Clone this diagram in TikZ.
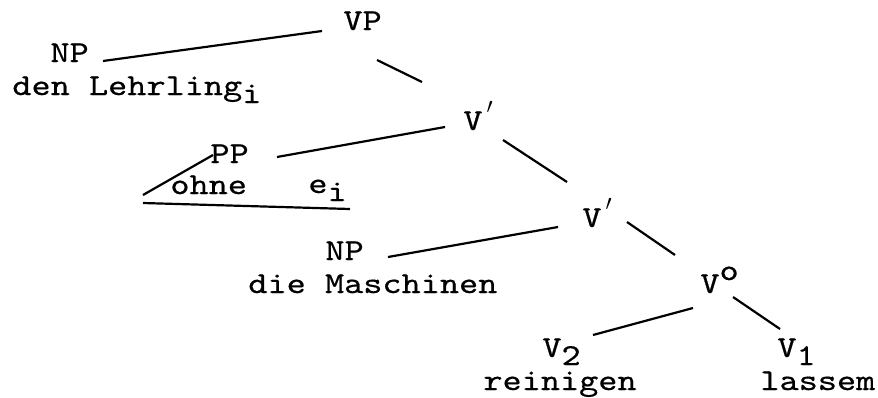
\documentclass[tikz,border=0pt]{standalone}
\usepackage{fontspec}
\setmonofont{lmmono10-regular.otf}[FakeStretch=1.2,FakeBold=0.5]
\usetikzlibrary{positioning}

\newcommand{\tief}[1]{\raisebox{-4pt}{#1}}
\newcommand{\hoch}[1]{\raisebox{6.5pt}{#1}}
\newcommand{\strich}{\hspace{2pt}\raisebox{3pt}{$^{\prime}$}}

\tikzset{
  kat/.style={anchor=base west, inner sep=0pt, font=\ttfamily\fontsize{15.2}{18}\selectfont},
  ast/.style={line width=1.1pt}
}

\begin{document}
\begin{tikzpicture}[x=0.5pt, y=-0.5pt]
  \useasboundingbox (0,0) rectangle (878,397);
  % categories
  \node[kat] (vp)  at (343,30)  {VP};
  \node[kat] (np1) at (50,62)   {NP};
  \node[kat] (v1)  at (463,130) {V\strich};
  \node[kat] (pp)  at (210,163) {PP};
  \node[kat] (v2)  at (582,227) {V\strich};
  \node[kat] (np2) at (325,260) {NP};
  \node[kat] (v0)  at (700,293) {V\hoch{o}};
  \node[kat] (vv2) at (542,357) {V\tief{2}};
  \node[kat] (vv1) at (777,357) {V\tief{1}};
  % words
  \node[kat] (lehrling) at (12,95)  {den Lehrling\tief{i}};
  \node[kat] (ohne)     at (170,194) {ohne};
  \node[kat] (ei)       at (308,193) {e\tief{i}};
  \node[kat] (masch)    at (248,293) {die Maschinen};
  \node[kat] (reinigen) at (483,390) {reinigen};
  \node[kat] (lassem)   at (760,390) {lassem};
  % branches
  \draw[ast] ([shift={(53,-1)}]np1.base west) -- ([shift={(-21,1)}]vp.base west);
  \draw[ast] ([shift={(34,30)}]vp.base west) -- ([shift={(-41,-48)}]v1.base west);
  \draw[ast] ([shift={(67,-6)}]pp.base west) -- ([shift={(-18,-3)}]v1.base west);
  \draw[ast] ([shift={(40,10)}]v1.base west) -- ([shift={(-15,-45)}]v2.base west);
  \draw[ast] ([shift={(63,-3)}]np2.base west) -- ([shift={(-24,0)}]v2.base west);
  \draw[ast] ([shift={(45,-5)}]v2.base west) -- ([shift={(-25,-38)}]v0.base west);
  \draw[ast] ([shift={(-7,15)}]v0.base west) -- ([shift={(51,-22)}]vv2.base west);
  \draw[ast] ([shift={(33,4)}]v0.base west) -- ([shift={(3,-28)}]vv1.base west);
  % roof over the PP
  \draw[ast] ([shift={(3,-8)}]pp.base west) -- ([shift={(-27,1)}]ohne.base west);
  \draw[ast] ([shift={(-27,9)}]ohne.base west) -- ([shift={(42,16)}]ei.base west);
\end{tikzpicture}
\end{document}
